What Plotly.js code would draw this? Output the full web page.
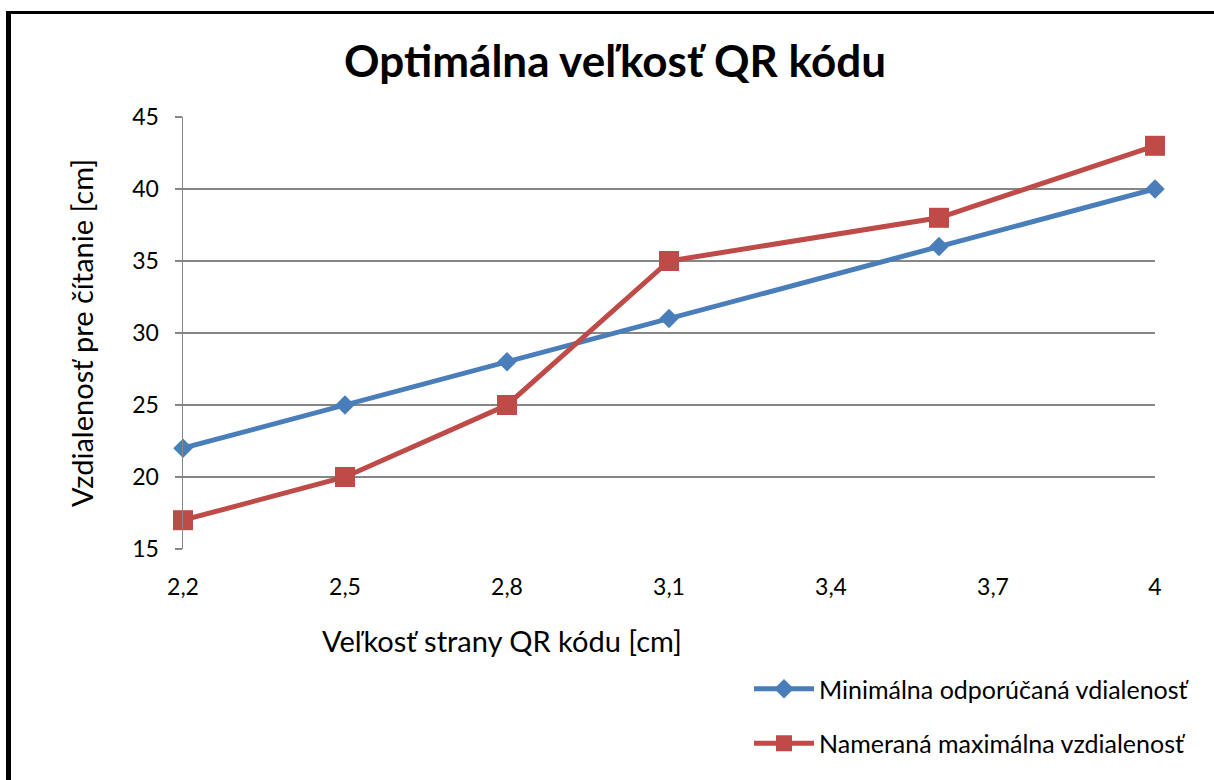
<!DOCTYPE html>
<html>
<head>
<meta charset="utf-8">
<script src="https://cdn.plot.ly/plotly-3.0.1.min.js"></script>
<style>
  html, body { margin: 0; padding: 0; background: #fff; overflow: hidden; }
  #wrap { position: relative; width: 1214px; height: 780px; overflow: hidden; }
  #chart { width: 1214px; height: 780px; }
  #frame { position: absolute; left: 6px; top: 11px; width: 1400px; height: 1000px;
           border-left: 5px solid #000; border-top: 3px solid #000; pointer-events: none; }
</style>
</head>
<body>
<div id="wrap">
  <div id="chart"></div>
  <div id="frame"></div>
</div>
<script>
const sizes = [2.2, 2.5, 2.8, 3.1, 3.6, 4.0];
const minDistance = [22, 25, 28, 31, 36, 40];
const maxDistance = [17, 20, 25, 35, 38, 43];
const xTickVals = [2.2, 2.5, 2.8, 3.1, 3.4, 3.7, 4.0];
const xTickText = ['2,2', '2,5', '2,8', '3,1', '3,4', '3,7', '4'];
const seriesNames = ['Minimálna odporúčaná vdialenosť', 'Nameraná maximálna vzdialenosť'];

const FONT = 'Lato, "Open Sans", sans-serif';

const traces = [
  {
    x: sizes, y: minDistance, name: seriesNames[0], type: 'scatter', mode: 'lines+markers',
    legendgroup: 'a', cliponaxis: false,
    line: { color: '#4A7EBB', width: 5 },
    marker: { symbol: 'diamond', size: 15, color: '#4A7EBB' }
  },
  {
    x: sizes, y: maxDistance, name: seriesNames[1], type: 'scatter', mode: 'lines+markers',
    legendgroup: 'b', cliponaxis: false,
    line: { color: '#BE4B48', width: 5 },
    marker: { symbol: 'square', size: 20, color: '#BE4B48' }
  }
];

const layout = {
  width: 1214, height: 780,
  paper_bgcolor: '#fff', plot_bgcolor: '#fff',
  separators: ', ',
  margin: { l: 183, r: 59, t: 117, b: 231, pad: 0, autoexpand: false },
  font: { family: FONT, color: '#000' },
  title: {
    text: '<b>Optimálna veľkosť QR kódu</b>',
    font: { family: FONT, size: 44, color: '#000' },
    x: 615 / 1214, xanchor: 'center', xref: 'container',
    y: 1 - 62 / 780, yanchor: 'middle', yref: 'container'
  },
  xaxis: {
    range: [2.2, 4.0], automargin: false,
    tickvals: xTickVals, ticktext: xTickText,
    showgrid: false, zeroline: false, showline: false,
    ticks: '', tickfont: { size: 23, family: FONT, color: '#000' },
    ticklabelstandoff: 22
  },
  yaxis: {
    range: [15, 45], dtick: 5, tick0: 15, automargin: false,
    showgrid: true, gridcolor: '#868686', gridwidth: 1.5,
    zeroline: false, showline: true, linecolor: '#868686', linewidth: 1.5,
    ticks: 'outside', ticklen: 7, tickcolor: '#868686', tickwidth: 1.5,
    tickfont: { size: 23, family: FONT, color: '#000' },
    ticklabelstandoff: 11,
    title: { text: 'Vzdialenosť pre čítanie [cm]', font: { size: 29, family: FONT, color: '#000' }, standoff: 30 }
  },
  showlegend: true,
  legend: {
    x: (749 - 183) / 972, xanchor: 'left',
    y: (549 - 666) / 432, yanchor: 'top',
    traceorder: 'grouped', tracegroupgap: 19,
    itemwidth: 60,
    font: { size: 25, family: FONT, color: '#000' },
    bgcolor: 'rgba(0,0,0,0)', borderwidth: 0
  },
  annotations: [
    {
      text: 'Veľkosť strany QR kódu [cm]', showarrow: false,
      xref: 'paper', yref: 'paper',
      x: (502 - 183) / 972, xanchor: 'center',
      y: (549 - 640) / 432, yanchor: 'middle',
      font: { size: 29, family: FONT, color: '#000' }
    }
  ]
};

Plotly.newPlot('chart', traces, layout, { displayModeBar: false, staticPlot: true });
</script>
</body>
</html>
